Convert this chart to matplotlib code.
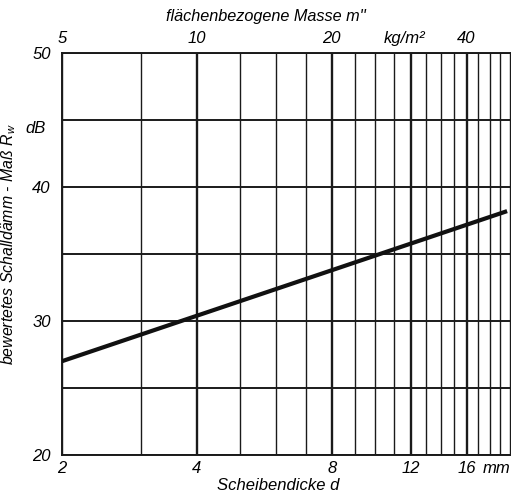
import matplotlib
matplotlib.use("Agg")
import matplotlib.pyplot as plt
from matplotlib.ticker import FixedLocator, NullFormatter
import matplotlib.transforms as mtransforms

plt.rcParams['font.family'] = ['Liberation Sans', 'DejaVu Sans']
plt.rcParams['font.style'] = 'italic'
plt.rcParams['mathtext.fontset'] = 'custom'
plt.rcParams['mathtext.it'] = 'Liberation Sans:italic'
plt.rcParams['mathtext.rm'] = 'Liberation Sans:italic'

# data
thickness_mm = [2.0, 19.7]
rw_db = [27.0, 38.2]

bottom_ticks = [2, 4, 8, 12, 16]
bottom_labels = ["2", "4", "8", "12", "16"]
grid_d = list(range(2, 21))
bold_d = [4, 8, 12, 16]
y_ticks = [20, 30, 40, 50]
y_grid = [20, 25, 30, 35, 40, 45, 50]
top_ticks = [5, 10, 20, 29, 40]
top_labels = ["5", "10", "20", "kg/m²", "40"]
density = 2.5  # kg/m^2 per mm

FS = 12

fig = plt.figure(figsize=(5.11, 4.96), dpi=100)
ax = fig.add_axes([62/511, 1-455/496, 449/511, 402/496])
ax.set_xscale('log')
ax.set_xlim(2, 20.1)
ax.set_ylim(20, 50)

lc = '#1a1a1a'
for d in grid_d:
    ax.axvline(d, color=lc, lw=1.7 if d in bold_d else 1.0, zorder=1)
for y in y_grid:
    ax.axhline(y, color=lc, lw=1.4, zorder=1)

ax.plot(thickness_mm, rw_db, color='#111111', lw=3.0, solid_capstyle='butt', zorder=3)

ax.spines['right'].set_visible(False)
for s in ['left', 'top', 'bottom']:
    ax.spines[s].set_linewidth(1.4)
    ax.spines[s].set_color(lc)

ax.xaxis.set_major_locator(FixedLocator(bottom_ticks))
ax.set_xticklabels(bottom_labels)
ax.xaxis.set_minor_locator(FixedLocator([]))
ax.xaxis.set_minor_formatter(NullFormatter())
ax.tick_params(axis='x', length=0, pad=4, labelsize=FS)
ax.yaxis.set_major_locator(FixedLocator(y_ticks))
ax.tick_params(axis='y', length=0, pad=8, labelsize=FS)

trans = mtransforms.blended_transform_factory(ax.transAxes, ax.transData)
ax.text(-0.036, 44.9, 'dB', transform=trans, ha='right', va='top', fontsize=FS)
ax.text(0.968, 20, 'mm', ha='center', va='top', fontsize=FS,
        transform=mtransforms.offset_copy(trans, fig=fig, y=-4, units='points'))

sec = ax.secondary_xaxis('top', functions=(lambda d: d*density, lambda m: m/density))
sec.set_xticks(top_ticks)
sec.set_xticklabels(top_labels)
sec.xaxis.set_minor_locator(FixedLocator([]))
sec.tick_params(axis='x', length=0, pad=5, labelsize=FS)
sec.spines['top'].set_visible(False)

ax.set_ylabel(r"bewertetes Schalldämm - Maß $R_w$", fontsize=11.4)
ax.yaxis.set_label_coords(-0.098, 0.524)

fig.text(278/511, 1-486/496, 'Scheibendicke d', ha='center', va='center', fontsize=FS)
fig.text(266/511, 1-17/496, "flächenbezogene Masse m''", ha='center', va='center', fontsize=11.7)

fig.savefig('out.png', dpi=100)
